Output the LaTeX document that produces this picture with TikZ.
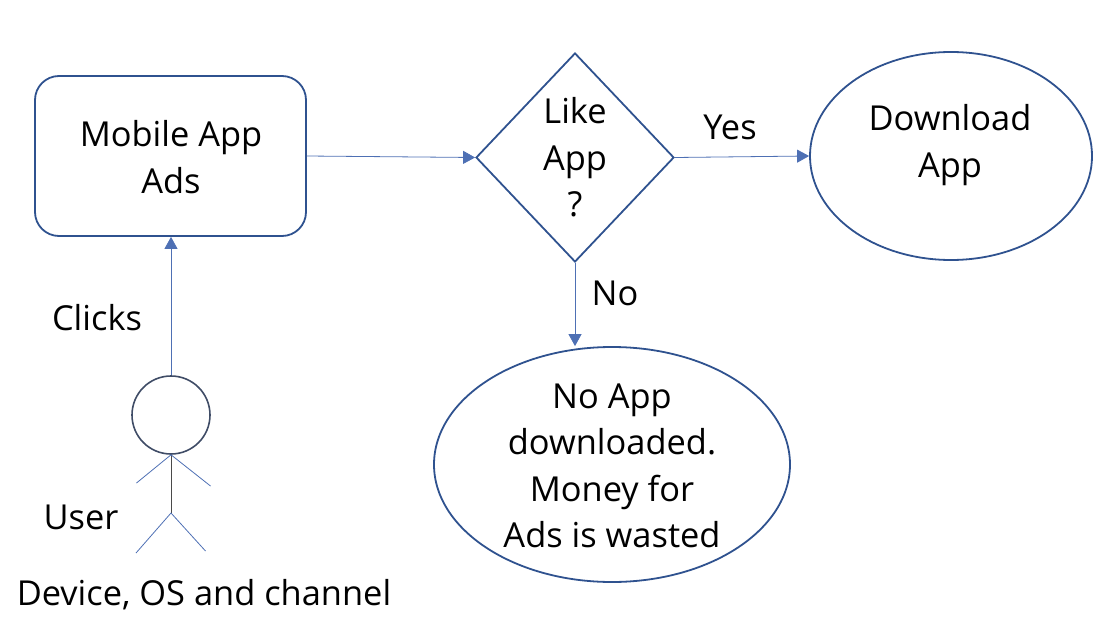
\documentclass[tikz,border=0pt]{standalone}
\usepackage{fontspec}
\setmainfont{Open Sans}
\usetikzlibrary{shapes.geometric,arrows.meta}
\definecolor{edge}{HTML}{2F528F}
\definecolor{conn}{HTML}{4E70B4}
\definecolor{headc}{HTML}{3F4C66}
\definecolor{body}{HTML}{4A4A4A}
\tikzset{x=1pt,y=-1pt,
 shapeline/.style={draw=edge,line width=1.8pt,align=center,inner sep=0pt},
 txt/.style={font=\fontsize{34.4}{46.5}\selectfont,align=center,inner sep=0pt,text=black},
 link/.style={draw=conn,line width=0.8pt,-{Triangle[length=12pt,width=13pt,fill=conn]}},
 stick/.style={draw=conn,line width=0.8pt}}
\begin{document}
\begin{tikzpicture}
\useasboundingbox (0,0) rectangle (1110,631);
\node[shapeline,rectangle,rounded corners=24pt,minimum width=271pt,minimum height=160pt] (ads) at (170.5,156) {};
\node[shapeline,diamond,aspect=1,minimum width=198pt,minimum height=209pt] (like) at (575,157.5) {};
\node[shapeline,ellipse,minimum width=282pt,minimum height=208pt] (dl) at (951,156) {};
\node[shapeline,ellipse,minimum width=356pt,minimum height=235pt] (no) at (612,464.5) {};
\node[txt] (adst) at (171,157) {Mobile App\\Ads};
\node[txt] (liket) at (575,157.5) {Like\\App\\?};
\node[txt] (dlt) at (950,145) {Download\\App};
\node[txt] (not) at (612,466) {No App\\downloaded.\\Money for\\Ads is wasted};
\node[draw=headc,line width=1.6pt,circle,minimum size=78pt,inner sep=0pt] (head) at (171,415) {};
\coordinate (hip) at (171,513);
\coordinate (arml) at (136.5,483);
\coordinate (armr) at (210.5,486);
\coordinate (legl) at (136,553);
\coordinate (legr) at (205.5,551);
\draw[draw=body,line width=0.8pt] (head.south) -- (hip);
\draw[stick] (head.south) -- (arml);
\draw[stick] (head.south) -- (armr);
\draw[stick] (hip) -- (legl);
\draw[stick] (hip) -- (legr);
\draw[link] (head.north) -- (ads.south -| head.north);
\draw[link] (ads.east) -- (like.west);
\draw[link] (like.east) -- (dl.west);
\draw[link] (like.south) -- (like.south |- no.north);
\node[txt] (clicks) at (97,318) {Clicks};
\node[txt] (user) at (81,517) {User};
\node[txt] (dev) at (204,595) {Device, OS and channel};
\node[txt] (yes) at (730,127) {Yes};
\node[txt] (nol) at (615,293) {No};
\end{tikzpicture}
\end{document}
